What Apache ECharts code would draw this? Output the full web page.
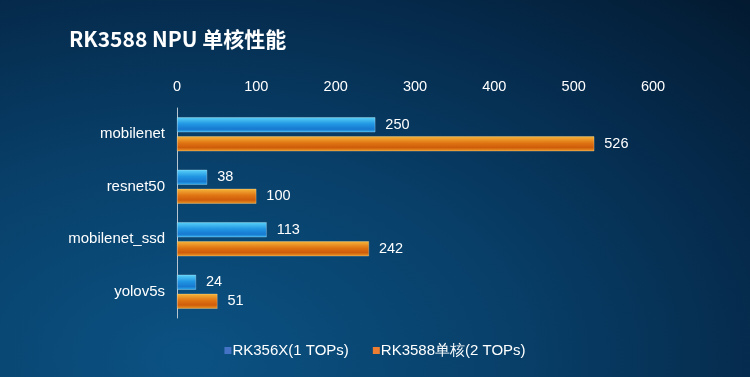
<!DOCTYPE html>
<html>
<head>
<meta charset="utf-8">
<script src="https://cdn.jsdelivr.net/npm/echarts@6/dist/echarts.min.js"></script>
<style>
  html, body { margin: 0; padding: 0; }
  #chart {
    width: 750px; height: 377px;
    background: radial-gradient(ellipse at 25% 95%, #0b5283 0%, #08406a 40%, #05294a 75%, #031a30 100%);
  }
</style>
</head>
<body>
<div id="chart"></div>
<script>
const models = ['mobilenet', 'resnet50', 'mobilenet_ssd', 'yolov5s'];
const rk356x = [250, 38, 113, 24];
const rk3588 = [526, 100, 242, 51];
const seriesNames = ['RK356X(1 TOPs)', 'RK3588单核(2 TOPs)'];

const chart = echarts.init(document.getElementById('chart'));

// 蓝色/橙色 立体条形渐变
const blueFill = new echarts.graphic.LinearGradient(0, 0, 0, 1, [
  { offset: 0, color: '#5ad2f8' },
  { offset: 0.45, color: '#2196e3' },
  { offset: 0.8, color: '#1779d0' },
  { offset: 1, color: '#2eb0ee' }
]);
const orangeFill = new echarts.graphic.LinearGradient(0, 0, 0, 1, [
  { offset: 0, color: '#f6b53a' },
  { offset: 0.45, color: '#df7413' },
  { offset: 0.75, color: '#cf5c0a' },
  { offset: 1, color: '#eb9a27' }
]);

chart.setOption({
  title: {
    text: 'RK3588 NPU 单核性能',
    left: 64, top: 24,
    textStyle: { color: '#fff', fontSize: 21, fontWeight: 'bold', fontFamily: 'Noto Sans CJK SC' }
  },
  legend: {
    data: [
      { name: seriesNames[0], itemStyle: { color: '#4472c4', borderWidth: 0 } },
      { name: seriesNames[1], itemStyle: { color: '#ed7d31', borderWidth: 0 } }
    ],
    bottom: 14, left: 'center',
    icon: 'rect', itemWidth: 7, itemHeight: 7, itemGap: 24,
    textStyle: { color: '#fff', fontSize: 15, fontFamily: 'Liberation Sans', padding: [0, 0, 0, -4] }
  },
  grid: { left: 177, right: 97, top: 108, bottom: 59 },
  xAxis: {
    type: 'value', position: 'top', min: 0, max: 600, interval: 100,
    axisLine: { show: false }, axisTick: { show: false },
    splitLine: { show: false },
    axisLabel: { color: '#fff', fontSize: 14.5, fontFamily: 'Liberation Sans', margin: 14 }
  },
  yAxis: {
    type: 'category', data: models, inverse: true,
    axisLine: { show: true, lineStyle: { color: '#b8c4cf', width: 1 } },
    axisTick: { show: false },
    axisLabel: { color: '#fff', fontSize: 15, fontFamily: 'Liberation Sans', margin: 12 }
  },
  series: [
    {
      name: seriesNames[0], type: 'bar', data: rk356x,
      barWidth: 15, barGap: '27%',
      itemStyle: { color: blueFill, borderColor: 'rgba(220,245,255,0.6)', borderWidth: 0.5 },
      label: { show: true, position: 'right', distance: 10, color: '#fff', fontSize: 14.5, fontFamily: 'Liberation Sans' }
    },
    {
      name: seriesNames[1], type: 'bar', data: rk3588,
      barWidth: 15,
      itemStyle: { color: orangeFill, borderColor: 'rgba(255,235,190,0.6)', borderWidth: 0.5 },
      label: { show: true, position: 'right', distance: 10, color: '#fff', fontSize: 14.5, fontFamily: 'Liberation Sans' }
    }
  ]
});

window.addEventListener('resize', () => chart.resize());
</script>
</body>
</html>
